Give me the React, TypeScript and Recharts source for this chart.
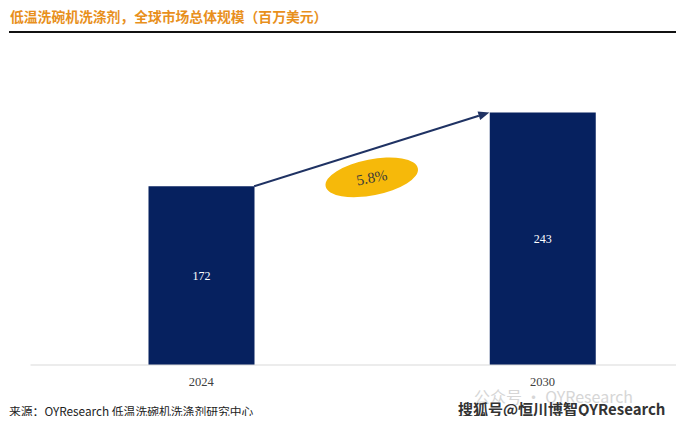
import { BarChart, Bar, XAxis, YAxis, LabelList, ReferenceLine } from "recharts";

const TITLE = "低温洗碗机洗涤剂，全球市场总体规模（百万美元）";
const SOURCE = "来源：QYResearch  低温洗碗机洗涤剂研究中心";
const years = ["2024", "2030"];
const marketSize = [172, 243];
const cagrLabel = "5.8%";
const yMax = 280;

const data = years.map((year, i) => ({ year, value: marketSize[i] }));

const NAVY = "#06215f";
const BAR_W = 106;
const SERIF = '"Liberation Serif", "Times New Roman", serif';
const CJK = '"Noto Sans CJK SC", "Noto Sans", sans-serif';

// arrow from top-right corner of the first bar to top-left of the last, plus the CAGR bubble
function GrowthArrow(props: any) {
  const { x1, y1, x2, y2 } = props;
  const sx = x1 + BAR_W / 2;
  const ex = x2 - BAR_W / 2;
  const ang = Math.atan2(y2 - y1, ex - sx);
  const head = 11;
  const hw = 4.5;
  const bx = ex - head * Math.cos(ang);
  const by = y2 - head * Math.sin(ang);
  const px = -Math.sin(ang) * hw;
  const py = Math.cos(ang) * hw;
  const cx = (sx + ex) / 2;
  const cy = (y1 + y2) / 2 + 28;
  return (
    <g>
      <line x1={sx} y1={y1} x2={bx} y2={by} stroke="#1f3263" strokeWidth={2} />
      <polygon
        points={`${ex},${y2} ${bx + px},${by + py} ${bx - px},${by - py}`}
        fill="#1f3263"
      />
      <g transform={`translate(${cx},${cy}) rotate(-11)`}>
        <ellipse cx={0} cy={0} rx={47} ry={18} fill="#f6b90a" />
        <text
          x={0}
          y={0}
          dy="0.35em"
          textAnchor="middle"
          fontFamily={SERIF}
          fontSize={15}
          fill="#3a3a3a"
        >
          {cagrLabel}
        </text>
      </g>
    </g>
  );
}

export default function App() {
  return (
    <div
      style={{
        position: "relative",
        width: 684,
        height: 424,
        margin: -8,
        overflow: "hidden",
        background: "#fff",
      }}
    >
      <div
        style={{
          position: "absolute",
          left: 10,
          top: 6,
          fontFamily: CJK,
          fontWeight: 700,
          fontSize: 13.8,
          color: "#e8901c",
          whiteSpace: "nowrap",
          lineHeight: "20px",
        }}
      >
        {TITLE}
      </div>
      <div
        style={{
          position: "absolute",
          left: 9,
          top: 31,
          width: 675,
          height: 1.5,
          background: "#111",
        }}
      />
      <div style={{ position: "absolute", left: 0, top: 0 }}>
        <BarChart
          width={713}
          height={424}
          data={data}
          margin={{ top: 74, right: 0, bottom: 29, left: 30.5 }}
        >
          <XAxis
            dataKey="year"
            axisLine={{ stroke: "#d9d9d9", strokeWidth: 1 }}
            tickLine={false}
            tickSize={0}
            tickMargin={12}
            tick={{ fill: "#404040", fontSize: 12.5, fontFamily: SERIF }}
          />
          <YAxis hide domain={[0, yMax]} />
          <Bar dataKey="value" fill={NAVY} barSize={BAR_W} isAnimationActive={false}>
            <LabelList
              dataKey="value"
              position="center"
              fill="#ffffff"
              fontSize={12}
              fontFamily={SERIF}
            />
          </Bar>
          <ReferenceLine
            segment={[
              { x: years[0], y: marketSize[0] },
              { x: years[1], y: marketSize[1] },
            ]}
            shape={GrowthArrow}
          />
        </BarChart>
      </div>
      <div
        style={{
          position: "absolute",
          left: 9,
          top: 403,
          fontFamily: CJK,
          fontSize: 11.8,
          color: "#222",
          whiteSpace: "nowrap",
          lineHeight: "16px",
        }}
      >
        {SOURCE}
      </div>
      <div
        style={{
          position: "absolute",
          left: 474,
          top: 387,
          fontFamily: CJK,
          fontSize: 16,
          color: "#d6d6d6",
          whiteSpace: "nowrap",
          lineHeight: "18px",
        }}
      >
        公众号 · QYResearch
      </div>
      <div
        style={{
          position: "absolute",
          left: 458,
          top: 400,
          fontFamily: CJK,
          fontWeight: 700,
          fontSize: 15,
          color: "#333",
          whiteSpace: "nowrap",
          lineHeight: "18px",
          textShadow: "0 0 2px #fff, 0 0 2px #fff",
        }}
      >
        搜狐号@恒川博智QYResearch
      </div>
    </div>
  );
}
